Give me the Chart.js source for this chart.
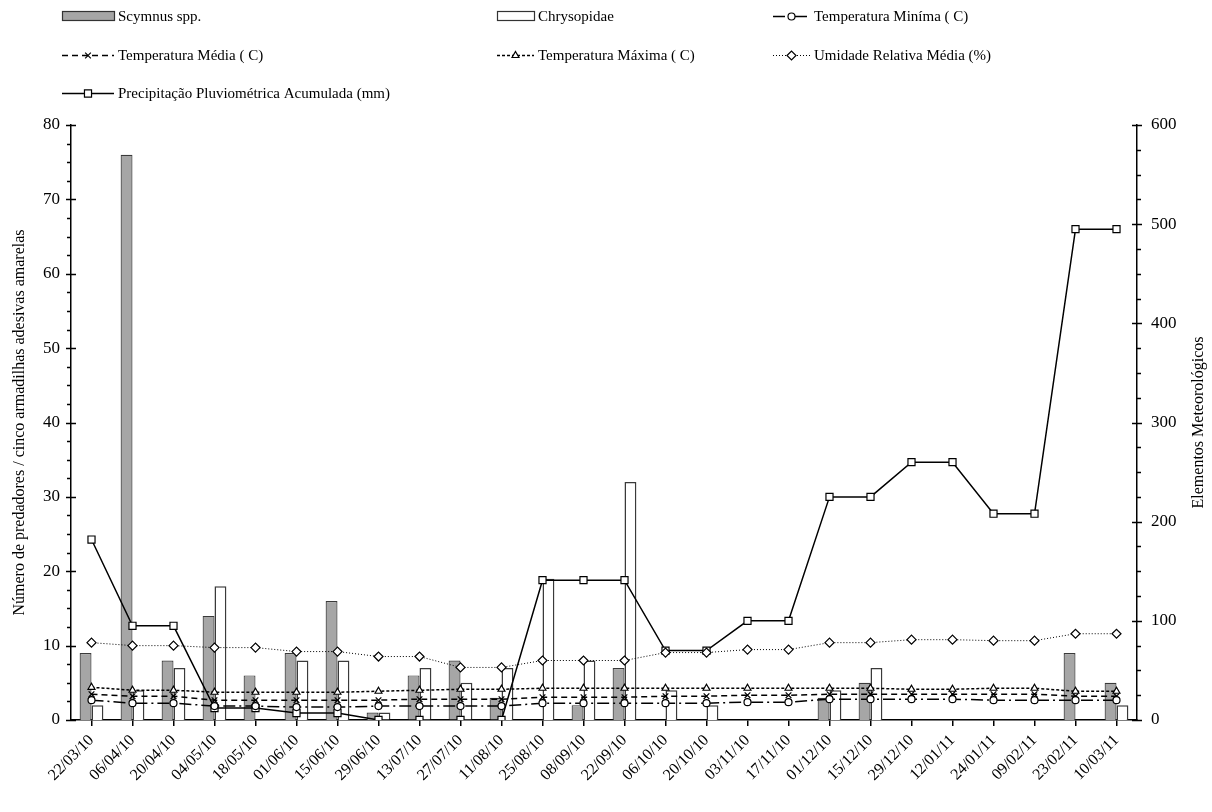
<!DOCTYPE html>
<html>
<head>
<meta charset="utf-8">
<script src="https://cdn.jsdelivr.net/npm/chart.js@4.4.0/dist/chart.umd.min.js"></script>
<style>
html,body{margin:0;padding:0;background:#fff;}
#wrap{position:relative;width:1212px;height:812px;}
</style>
</head>
<body>
<div id="wrap"><canvas id="c" width="1212" height="812"></canvas></div>
<script>
const categories = ['22/03/10','06/04/10','20/04/10','04/05/10','18/05/10','01/06/10','15/06/10','29/06/10','13/07/10','27/07/10','11/08/10','25/08/10','08/09/10','22/09/10','06/10/10','20/10/10','03/11/10','17/11/10','01/12/10','15/12/10','29/12/10','12/01/11','24/01/11','09/02/11','23/02/11','10/03/11'];
const scymnus     = [9,76,8,14,6,9,16,1,6,8,3,0,2,7,0,0,0,0,3,5,0,0,0,0,9,5];
const chrysopidae = [2,4,7,18,0,8,8,1,7,5,7,19,8,32,4,2,0,0,4,7,0,0,0,0,0,2];
const tempMin   = [20,17,17,14,14,13,13,14,14,14,14,17,17,17,17,17,18,18,21,21,21,21,20,20,20,20];
const tempMean  = [26,24,24,20,20,20,20,20,21,21,21,23,23,23,24,24,25,25,26,26,26,26,26,26,24,24];
const tempMax   = [33,30,30,28,28,28,28,29,30,31,31,32,32,32,32,32,32,32,32,32,31,31,32,32,29,29];
const humidity  = [78,75,75,73,73,69,69,64,64,53,53,60,60,60,68,68,71,71,78,78,81,81,80,80,87,87];
const precip    = [182,95,95,12,12,7,7,0,0,0,0,141,141,141,70,70,100,100,225,225,260,260,208,208,495,495];
const leftTicks = [0,10,20,30,40,50,60,70,80];
const rightTicks = [0,100,200,300,400,500,600];

const FONT = "'Liberation Serif','Times New Roman',serif";
const INK = '#000';

const lineDefs = {
  min:   {label:'Temperatura Miníma ( C)', data: tempMin, dash:[12,4,2,4], width:1.5, style:'circle', radius:3.5},
  mean:  {label:'Temperatura Média ( C)', data: tempMean, dash:[6,4], width:1.5, style:'crossRot', radius:4},
  max:   {label:'Temperatura Máxima ( C)', data: tempMax, dash:[3,2], width:1.5, style:'triangle', radius:4},
  hum:   {label:'Umidade Relativa Média (%)', data: humidity, dash:[1,2], width:1, style:'rectRot', radius:4.5},
  prec:  {label:'Precipitação Pluviométrica Acumulada (mm)', data: precip, dash:[], width:1.5, style:'rect', radius:5}
};

function lineDataset(d){
  return {
    type:'line', label:d.label, data:d.data, yAxisID:'y1', order:0,
    borderColor:INK, borderWidth:d.width, borderDash:d.dash, fill:false, tension:0,
    pointStyle:d.style, pointRadius:d.radius, pointBorderColor:INK, pointBorderWidth:1.2,
    pointBackgroundColor:'#fff', pointHoverRadius:d.radius
  };
}

const axisDecor = {
  id:'axisDecor',
  afterDraw(chart){
    const ctx = chart.ctx;
    const y = chart.scales.y, y1 = chart.scales.y1;
    ctx.save();
    ctx.strokeStyle = INK; ctx.lineWidth = 1.5;
    const lx = y.right;
    for(let v=0; v<=80.001; v+=2.5){
      const py = Math.round(y.getPixelForValue(v))+0.5;
      ctx.beginPath();
      if(v%10===0){ ctx.moveTo(lx-5,py); ctx.lineTo(lx+5,py); }
      else { ctx.moveTo(lx-4,py); ctx.lineTo(lx,py); }
      ctx.stroke();
    }
    const rx = y1.left;
    for(let v=0; v<=600.001; v+=25){
      const py = Math.round(y1.getPixelForValue(v))+0.5;
      ctx.beginPath();
      if(v%100===0){ ctx.moveTo(rx-5,py); ctx.lineTo(rx+5,py); }
      else { ctx.moveTo(rx,py); ctx.lineTo(rx+4,py); }
      ctx.stroke();
    }
    const ca = chart.chartArea;
    const cy = (ca.top+ca.bottom)/2;
    ctx.fillStyle = INK;
    ctx.font = '16px '+FONT;
    ctx.textAlign='center'; ctx.textBaseline='middle';
    ctx.save(); ctx.translate(20, cy); ctx.rotate(-Math.PI/2);
    ctx.fillText('Número de predadores / cinco armadilhas adesivas amarelas',0,0); ctx.restore();
    ctx.save(); ctx.translate(1199, cy); ctx.rotate(-Math.PI/2);
    ctx.fillText('Elementos Meteorológicos',0,0); ctx.restore();

    const items = [
      {kind:'bar', fill:'#a6a6a6', x:62, y:16, text:'Scymnus spp.'},
      {kind:'bar', fill:'#ffffff', x:497, y:16, text:'Chrysopidae'},
      {kind:'line', def:lineDefs.min, x:773, y:16},
      {kind:'line', def:lineDefs.mean, x:62, y:55},
      {kind:'line', def:lineDefs.max, x:497, y:55},
      {kind:'line', def:lineDefs.hum, x:773, y:55},
      {kind:'line', def:lineDefs.prec, x:62, y:93}
    ];
    ctx.font = '15px '+FONT;
    ctx.textAlign='left'; ctx.textBaseline='middle';
    items.forEach(it=>{
      const w = it.x<100 ? 52 : 37;
      if(it.kind==='bar'){
        ctx.fillStyle = it.fill; ctx.strokeStyle = '#333'; ctx.lineWidth=1.2; ctx.setLineDash([]);
        ctx.fillRect(it.x+0.5, it.y-4.5, w, 9); ctx.strokeRect(it.x+0.5, it.y-4.5, w, 9);
        ctx.fillStyle = INK;
        ctx.fillText(it.text, it.x+w+4, it.y+1);
      } else {
        const d = it.def;
        ctx.strokeStyle = INK; ctx.lineWidth = d.width; ctx.setLineDash(d.dash);
        ctx.beginPath(); ctx.moveTo(it.x, it.y+0.5); ctx.lineTo(it.x+w, it.y+0.5); ctx.stroke();
        ctx.setLineDash([]);
        ctx.fillStyle='#fff'; ctx.lineWidth=1.2;
        Chart.helpers.drawPoint(ctx, {pointStyle:d.style, radius:d.radius, rotation:0, borderWidth:1.2}, it.x+w/2, it.y+0.5);
        ctx.fillStyle = INK;
        ctx.fillText(d.label, it.x+w+4, it.y+1);
      }
    });
    ctx.restore();
  }
};

new Chart(document.getElementById('c'), {
  type:'bar',
  data:{
    labels:categories,
    datasets:[
      {type:'bar', label:'Scymnus spp.', data:scymnus, yAxisID:'y', order:1,
       backgroundColor:'#a6a6a6', borderColor:'#3a3a3a', borderWidth:1.2,
       categoryPercentage:0.58, barPercentage:1.0},
      {type:'bar', label:'Chrysopidae', data:chrysopidae, yAxisID:'y', order:1,
       backgroundColor:'#ffffff', borderColor:'#3a3a3a', borderWidth:1.5,
       categoryPercentage:0.58, barPercentage:1.0},
      lineDataset(lineDefs.min),
      lineDataset(lineDefs.mean),
      lineDataset(lineDefs.max),
      lineDataset(lineDefs.hum),
      lineDataset(lineDefs.prec)
    ]
  },
  options:{
    responsive:false, animation:false, devicePixelRatio:1,
    layout:{padding:{top:125,left:0,right:0,bottom:0}},
    plugins:{legend:{display:false}, tooltip:{enabled:false}, title:{display:false}},
    scales:{
      x:{
        type:'category', offset:true,
        grid:{display:true, drawOnChartArea:false, drawTicks:true, tickLength:6, offset:false, color:INK, tickColor:INK, lineWidth:1.5},
        border:{display:true, color:INK, width:1.5},
        ticks:{minRotation:45, maxRotation:45, autoSkip:false, color:INK, font:{family:FONT, size:16}, padding:5},
        afterFit(s){ s.height = 92; }
      },
      y:{
        position:'left', min:0, max:80,
        afterBuildTicks(s){ s.ticks = leftTicks.map(v=>({value:v})); },
        grid:{display:false, drawTicks:false},
        border:{display:true, color:INK, width:1.5},
        ticks:{color:INK, font:{family:FONT, size:17}, padding:11},
        afterFit(s){ s.width = 71; }
      },
      y1:{
        position:'right', min:0, max:600,
        afterBuildTicks(s){ s.ticks = rightTicks.map(v=>({value:v})); },
        grid:{display:false, drawTicks:false},
        border:{display:true, color:INK, width:1.5},
        ticks:{color:INK, font:{family:FONT, size:17}, padding:14},
        afterFit(s){ s.width = 75; }
      }
    }
  },
  plugins:[axisDecor]
});
</script>
</body>
</html>
